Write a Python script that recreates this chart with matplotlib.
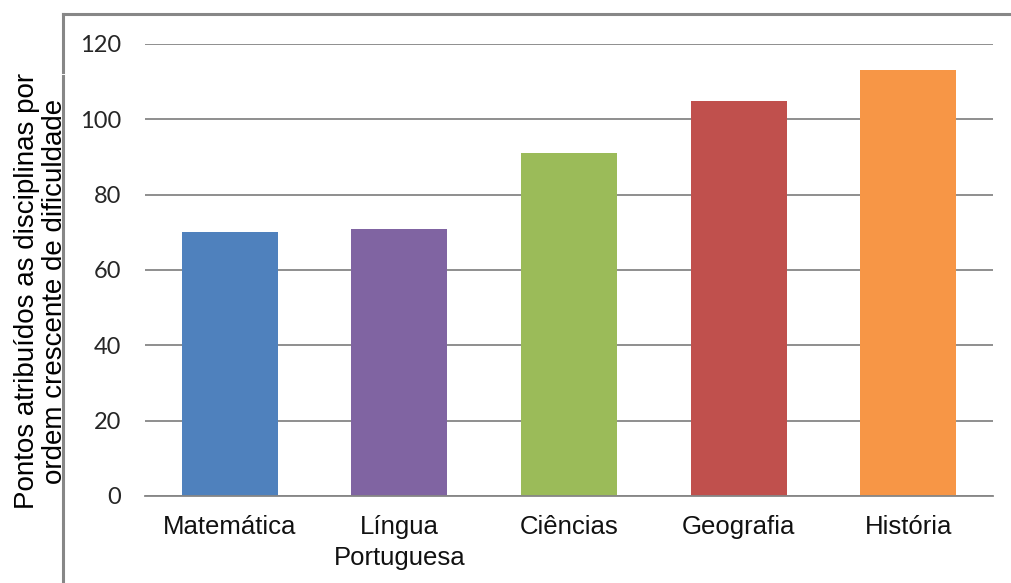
import matplotlib
matplotlib.use("Agg")
import matplotlib.pyplot as plt
from matplotlib.lines import Line2D

# Dados do gráfico
disciplinas = ["Matemática", "Língua\nPortuguesa", "Ciências", "Geografia", "História"]
pontos = [70, 71, 91, 105, 113]
cores = ["#4F81BD", "#8064A2", "#9BBB59", "#C0504D", "#F79646"]
y_ticks = [0, 20, 40, 60, 80, 100, 120]

W, H = 1011, 583
fig = plt.figure(figsize=(W / 100, H / 100), dpi=100)
ax = fig.add_axes([145 / W, 1 - 496 / H, (993 - 145) / W, (496 - 44) / H])

x = range(len(disciplinas))
ax.bar(x, pontos, width=0.566, color=cores, zorder=3)
ax.set_xlim(-0.5, len(disciplinas) - 0.5)
ax.set_ylim(0, 120)

# Linhas de grade
ax.set_yticks(y_ticks)
ax.yaxis.grid(True, color="#868686", linewidth=1.3, zorder=0)
ax.set_axisbelow(True)
for s in ["top", "right", "left"]:
    ax.spines[s].set_visible(False)
ax.spines["bottom"].set_color("#868686")
ax.spines["bottom"].set_linewidth(1.3)
ax.spines["bottom"].set_zorder(4)

ax.set_xticks(list(x))
ax.set_xticklabels(disciplinas, fontsize=18.5, family="Liberation Sans", color="#111111",
                   linespacing=1.35)
ax.set_yticklabels([str(v) for v in y_ticks], fontsize=17, family="Lato", color="#262626")
ax.tick_params(axis="both", length=0)
ax.tick_params(axis="y", pad=17)
ax.tick_params(axis="x", pad=14)

fig.text(41 / W, 1 - 291 / H, "Pontos atribuídos as disciplinas por\nordem crescente de dificuldade",
         rotation=90, ha="center", va="center", multialignment="center",
         fontsize=20, family="Liberation Sans", color="#000000", linespacing=1.08)

# Moldura da área do gráfico
cor_moldura = "#878787"
fig.add_artist(Line2D([63 / W, 1.0], [1 - 14 / H, 1 - 14 / H], color=cor_moldura, linewidth=2.2))
for y0, y1 in [(14, 72), (76, 522), (525, 583)]:
    fig.add_artist(Line2D([63 / W, 63 / W], [1 - y0 / H, 1 - y1 / H], color=cor_moldura, linewidth=2.2))

fig.savefig("out.png", dpi=100)
